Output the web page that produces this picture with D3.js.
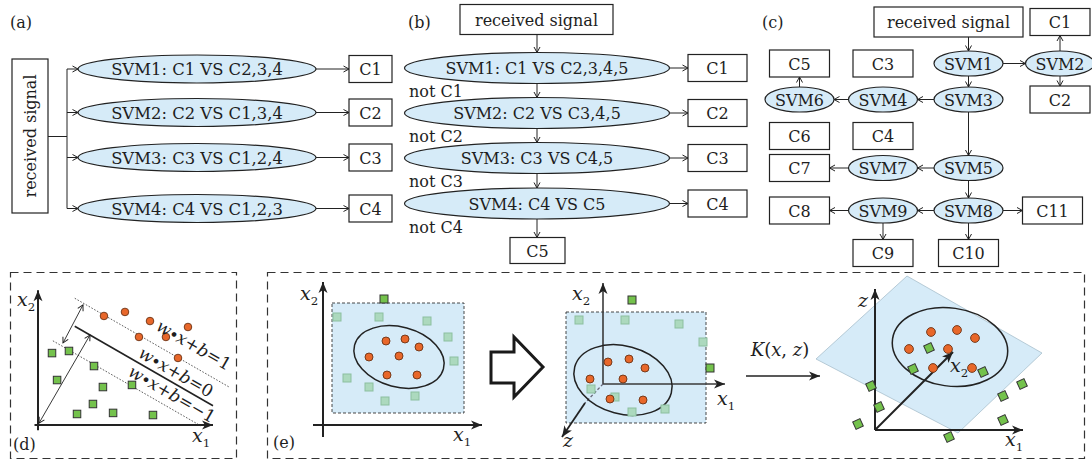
<!DOCTYPE html>
<html><head><meta charset="utf-8">
<script src="https://cdn.jsdelivr.net/npm/d3@7"></script>
<style>
body{margin:0;background:#fff}
svg{display:block}
text{font-family:"DejaVu Serif",serif;fill:#1e1e1e}
</style>
</head><body>
<svg id="fig" width="1092" height="460"></svg>
<script>
// ---------------- DATA ----------------
const inputLabel = "received signal";
const aClassifiers = ["SVM1: C1 VS C2,3,4","SVM2: C2 VS C1,3,4","SVM3: C3 VS C1,2,4","SVM4: C4 VS C1,2,3"];
const aOutputs = ["C1","C2","C3","C4"];
const bClassifiers = ["SVM1: C1 VS C2,3,4,5","SVM2: C2 VS C3,4,5","SVM3: C3 VS C4,5","SVM4: C4 VS C5"];
const bOutputs = ["C1","C2","C3","C4"];
const bRejects = ["not C1","not C2","not C3","not C4"];
const bFinal = "C5";
// panel (c): tree of binary SVMs (grid column / row)
const cNodes = [
  {id:"in",  label:"received signal", kind:"wide", col:"in", row:0},
  {id:"C1",  label:"C1",  kind:"box", col:"c3", row:0},
  {id:"SVM1",label:"SVM1",kind:"ell", col:"c2", row:1},
  {id:"SVM2",label:"SVM2",kind:"ell", col:"c3", row:1},
  {id:"C5",  label:"C5",  kind:"box", col:"c0", row:1},
  {id:"C3",  label:"C3",  kind:"box", col:"c1", row:1},
  {id:"SVM6",label:"SVM6",kind:"ell", col:"c0", row:2},
  {id:"SVM4",label:"SVM4",kind:"ell", col:"c1", row:2},
  {id:"SVM3",label:"SVM3",kind:"ell", col:"c2", row:2},
  {id:"C2",  label:"C2",  kind:"box", col:"c3", row:2},
  {id:"C6",  label:"C6",  kind:"box", col:"c0", row:3},
  {id:"C4",  label:"C4",  kind:"box", col:"c1", row:3},
  {id:"C7",  label:"C7",  kind:"box", col:"c0", row:4},
  {id:"SVM7",label:"SVM7",kind:"ell", col:"c1", row:4},
  {id:"SVM5",label:"SVM5",kind:"ell", col:"c2", row:4},
  {id:"C8",  label:"C8",  kind:"box", col:"c0", row:5},
  {id:"SVM9",label:"SVM9",kind:"ell", col:"c1", row:5},
  {id:"SVM8",label:"SVM8",kind:"ell", col:"c2", row:5},
  {id:"C11", label:"C11", kind:"box", col:"c11", row:5},
  {id:"C9",  label:"C9",  kind:"box", col:"c1", row:6},
  {id:"C10", label:"C10", kind:"box", col:"c2", row:6}
];
const cEdges = [["in","SVM1"],["SVM1","SVM2"],["SVM2","C1"],["SVM2","C2"],["SVM1","SVM3"],
  ["SVM3","SVM4"],["SVM4","SVM6"],["SVM6","C5"],["SVM3","SVM5"],["SVM5","SVM7"],["SVM7","C7"],
  ["SVM5","SVM8"],["SVM8","SVM9"],["SVM9","C8"],["SVM9","C9"],["SVM8","C10"],["SVM8","C11"]];

// panel (d): linear SVM in (x1, x2)
const dClassA = [[3.77,6.23],[4.97,6.46],[6.4,5.94],[8.57,5.6],[5.77,5.03],[7.31,5.03],[8.0,3.83]];
const dClassB = [[0.8,4.11],[1.77,4.23],[3.2,3.37],[1.09,2.57],[3.71,2.17],[5.37,2.29],[3.14,1.2],[2.23,0.63],[4.29,0.69],[6.57,0.57]];
const dSlope = -0.575;
const dLines = [{c:"1", b:8.45, x0:2.1, x1:10.9},{c:"0", b:6.85, x0:2.1, x1:10.0},{c:"−1", b:5.3, x0:0.85, x1:9.3}];
const dLabelAt = [[8.91,4.57],[7.89,3.03],[7.66,1.77]];
const dMarginArrow = [[2.57,6.86],[1.43,4.69]];
const dNormalArrow = [[0.06,0.11],[2.97,5.14]];

// panel (e): kernel mapping
const eL_in  = [[6.3,8.4],[8.2,8.6],[9.6,7.8],[4.6,6.8],[7.6,6.9],[6.4,5.0],[9.4,5.0]];
const eL_out = [[1.4,10.8],[5.6,10.8],[10.4,10.4],[12.5,8.8],[13.1,6.4],[2.4,4.7],[4.6,3.8],[6.2,2.4],[9.2,2.9]];
const eL_outlier = [[6.1,12.6]];
const eL_rect = [0.9,1.2,14.1,12.2];
const eL_ell = {cx:7.6, cy:6.8, rx:4.6, ry:3.0, rot:15};

const eM_in  = [[0.5,2.2],[2.6,2.5],[4.2,1.6],[-1.3,0.5],[2.0,0.5],[0.7,-1.5],[4.0,-1.6]];
const eM_out = [[-2.4,6.4],[2.2,6.4],[7.6,6.0],[10.0,4.2],[-1.2,-0.5],[1.2,-1.3],[2.9,-2.8],[6.2,-2.5]];
const eM_outlier = [[2.9,8.4],[10.7,1.6]];
const eM_rect = [-3.7,-3.9,10.3,7.2];
const eM_ell = {cx:2.0, cy:0.4, rx:5.0, ry:3.4, rot:15};

const eR_in  = [[5.6,9.8],[8.2,10.0],[10.0,9.2],[3.4,8.1],[7.3,8.1],[5.8,6.2],[9.7,6.2]];
const eR_out = [[5.4,8.2],[3.8,6.1],[10.8,5.8],[-0.4,4.4],[0.4,2.3],[-1.7,0.6],[7.4,-0.7],[12.8,3.4],[14.7,4.6],[12.8,1.0]];
const eR_plane = [[3.2,15.4],[16.7,7.7],[8.3,-0.3],[-5.9,7.1]];
const eR_ell = {cx:7.5, cy:8.3, rx:5.8, ry:3.9, rot:8};

// ---------------- DRAW ----------------
const svg = d3.select("#fig");
const INK = "#222", BLUE = "#d6ebf8", ORANGE = "#e8672a", GREEN = "#74c24c", PALE = "#acd9be";

const defs = svg.append("defs");
defs.append("marker").attr("id","tip").attr("viewBox","-7 -4 8 8").attr("refX",0).attr("refY",0)
  .attr("markerWidth",8).attr("markerHeight",8).attr("markerUnits","userSpaceOnUse").attr("orient","auto-start-reverse")
  .append("path").attr("d","M-5.5,-3 L0,0 L-5.5,3").attr("fill","none").attr("stroke",INK).attr("stroke-width",1);
defs.append("marker").attr("id","axis").attr("viewBox","-12 -6 13 12").attr("refX",0).attr("refY",0)
  .attr("markerWidth",13).attr("markerHeight",12).attr("markerUnits","userSpaceOnUse").attr("orient","auto")
  .append("path").attr("d","M-11,-4.5 L0,0 L-11,4.5 L-8,0Z").attr("fill",INK);

function line(g, x1,y1,x2,y2, opt={}) {
  const l = g.append("line").attr("x1",x1).attr("y1",y1).attr("x2",x2).attr("y2",y2)
    .attr("stroke",opt.stroke||INK).attr("stroke-width",opt.w||1);
  if (opt.end) l.attr("marker-end","url(#"+opt.end+")");
  if (opt.start) l.attr("marker-start","url(#"+opt.start+")");
  if (opt.dash) l.attr("stroke-dasharray",opt.dash);
  return l;
}
function label(g, x, y, t, size=16, anchor="middle") {
  return g.append("text").attr("x",x).attr("y",y).attr("text-anchor",anchor)
    .attr("dominant-baseline","central").attr("font-size",size).text(t);
}
function box(g, cx, cy, w, h, t, size=16) {
  g.append("rect").attr("x",cx-w/2).attr("y",cy-h/2).attr("width",w).attr("height",h)
    .attr("fill","#fff").attr("stroke",INK).attr("stroke-width",1.2);
  label(g, cx, cy+0.5, t, size);
}
function ell(g, cx, cy, rx, ry, t, size=16) {
  g.append("ellipse").attr("cx",cx).attr("cy",cy).attr("rx",rx).attr("ry",ry)
    .attr("fill",BLUE).attr("stroke",INK).attr("stroke-width",1.2);
  label(g, cx, cy+0.5, t, size);
}
function mathText(g, x, y, parts, size=17, anchor="start") {
  const t = g.append("text").attr("x",x).attr("y",y).attr("font-size",size).attr("text-anchor",anchor);
  parts.forEach(p => {
    const s = t.append("tspan").text(p.t);
    if (p.it) s.attr("font-style","italic");
    if (p.sub) s.attr("font-size",size*0.62).attr("dy",size*0.28);
  });
  return t;
}
const sub = (v, n) => [{t:v, it:true},{t:n, sub:true}];

// ===== (a) one-vs-rest parallel =====
{
  const g = svg.append("g");
  label(g, 10, 22, "(a)", 16, "start");
  const y = d3.scaleOrdinal().domain(aClassifiers).range([69, 112.5, 157.5, 208.5]);
  const cx = 197, rx = 119, ry = 14, busX = 67, boxX = 370.5, boxW = 43;
  g.append("rect").attr("x",12).attr("y",59).attr("width",36).attr("height",154)
    .attr("fill","#fff").attr("stroke",INK).attr("stroke-width",1.2);
  g.append("text").attr("transform","translate(30,136) rotate(-90)").attr("text-anchor","middle")
    .attr("dominant-baseline","central").attr("font-size",16).text(inputLabel);
  line(g, 48, 136.5, busX, 136.5);
  line(g, busX, y(aClassifiers[0]), busX, y(aClassifiers[3]));
  aClassifiers.forEach((c,i) => {
    const yy = y(c);
    line(g, busX, yy, cx-rx, yy, {end:"tip"});
    ell(g, cx, yy, rx, ry, c, 16.4);
    line(g, cx+rx, yy, boxX-boxW/2, yy, {end:"tip"});
    box(g, boxX, yy, boxW, 27, aOutputs[i]);
  });
}

// ===== (b) decision list =====
{
  const g = svg.append("g");
  label(g, 408, 22, "(b)", 16, "start");
  const y = d3.scaleOrdinal().domain(bClassifiers).range([68, 113, 158, 203.5]);
  const cx = 537, rx = 132.5, ry = 15.5, boxX = 717.5, boxW = 59;
  box(g, cx-0.5, 19.5, 153, 30, inputLabel);
  line(g, cx, 34.5, cx, y(bClassifiers[0])-ry, {end:"tip"});
  bClassifiers.forEach((c,i) => {
    const yy = y(c);
    if (i>0) line(g, cx, y(bClassifiers[i-1])+ry, cx, yy-ry, {end:"tip"});
    ell(g, cx, yy, rx, ry, c);
    line(g, cx+rx, yy, boxX-boxW/2, yy, {end:"tip"});
    box(g, boxX, yy, boxW, 27, bOutputs[i]);
    label(g, 409, yy+23.5, bRejects[i], 16, "start");
  });
  line(g, cx, y(bClassifiers[3])+ry, cx, 237.5, {end:"tip"});
  box(g, cx+0.5, 250.5, 55, 26, bFinal);
}

// ===== (c) binary tree =====
{
  const g = svg.append("g");
  label(g, 762, 22, "(c)", 16, "start");
  const X = d3.scaleOrdinal().domain(["c0","c1","in","c2","c3","c11"]).range([799.5, 883, 948.5, 968.5, 1060, 1052.5]);
  const Y = d3.scaleOrdinal().domain([0,1,2,3,4,5,6]).range([22, 63.5, 99.5, 136, 168, 210.5, 253]);
  const size = {wide:[149,30], box:[60,27], ell:[34.5,12.5]};
  const byId = {};
  cNodes.forEach(n => { n.x = X(n.col); n.y = Y(n.row); byId[n.id] = n; });
  const hw = n => n.kind==="ell" ? size.ell[0] : size[n.kind][0]/2;
  const hh = n => n.kind==="ell" ? size.ell[1] : size[n.kind][1]/2;
  cEdges.forEach(([a,b]) => {
    const s = byId[a], t = byId[b];
    if (s.row === t.row) {
      const dir = Math.sign(t.x - s.x);
      line(g, s.x + dir*hw(s), s.y, t.x - dir*hw(t), s.y, {end:"tip"});
    } else {
      const dir = Math.sign(t.y - s.y);
      const xx = s.kind==="ell" ? s.x : t.x;
      line(g, xx, s.y + dir*hh(s), xx, t.y - dir*hh(t), {end:"tip"});
    }
  });
  cNodes.forEach(n => {
    if (n.kind==="ell") ell(g, n.x, n.y, size.ell[0], size.ell[1], n.label);
    else box(g, n.x, n.y, size[n.kind][0], size[n.kind][1], n.label);
  });
}

// helper scales for the scatter panels
function frame(ox, oy, unit) {
  return {x: d3.scaleLinear().domain([0,1]).range([ox, ox+unit]),
          y: d3.scaleLinear().domain([0,1]).range([oy, oy-unit]), unit};
}
function dots(g, S, pts, r) {
  g.selectAll(null).data(pts).join("circle").attr("cx",d=>S.x(d[0])).attr("cy",d=>S.y(d[1])).attr("r",r)
    .attr("fill",ORANGE).attr("stroke","#6b3214").attr("stroke-width",0.9);
}
function squares(g, S, pts, s, fill, stroke, rot=0) {
  g.selectAll(null).data(pts).join("rect").attr("x",-s/2).attr("y",-s/2).attr("width",s).attr("height",s)
    .attr("transform",d=>`translate(${S.x(d[0])},${S.y(d[1])}) rotate(${rot})`)
    .attr("fill",fill).attr("stroke",stroke).attr("stroke-width",1);
}
function ellipseShape(g, S, e, fill="none") {
  g.append("ellipse").attr("cx",0).attr("cy",0).attr("rx",e.rx*S.unit).attr("ry",e.ry*S.unit)
    .attr("transform",`translate(${S.x(e.cx)},${S.y(e.cy)}) rotate(${e.rot})`)
    .attr("fill",fill).attr("stroke",INK).attr("stroke-width",1.5);
}

// dashed panel frames
svg.append("rect").attr("x",10.5).attr("y",272.5).attr("width",226).attr("height",186)
  .attr("fill","none").attr("stroke","#333").attr("stroke-width",1.2).attr("stroke-dasharray","8,5");
svg.append("rect").attr("x",267.5).attr("y",272.5).attr("width",817).attr("height",186)
  .attr("fill","none").attr("stroke","#333").attr("stroke-width",1.2).attr("stroke-dasharray","8,5");

// ===== (d) =====
{
  const g = svg.append("g");
  const S = frame(38, 425, 17.5);
  line(g, S.x(-0.2), S.y(0), S.x(10.0), S.y(0), {w:2, end:"axis"});
  line(g, S.x(0), S.y(-0.3), S.x(0), S.y(7.7), {w:2, end:"axis"});
  dLines.forEach(l => {
    line(g, S.x(l.x0), S.y(l.b + dSlope*l.x0), S.x(l.x1), S.y(l.b + dSlope*l.x1),
      l.c==="0" ? {w:1.6} : {w:0.8, dash:"1.6,1.6", stroke:"#333"});
  });
  line(g, S.x(dMarginArrow[0][0]), S.y(dMarginArrow[0][1]), S.x(dMarginArrow[1][0]), S.y(dMarginArrow[1][1]), {w:0.9, start:"tip", end:"tip"});
  line(g, S.x(dNormalArrow[0][0]), S.y(dNormalArrow[0][1]), S.x(dNormalArrow[1][0]), S.y(dNormalArrow[1][1]), {w:0.9, start:"tip", end:"tip"});
  squares(g, S, dClassB, 7.5, GREEN, "#333");
  dots(g, S, dClassA, 3.8);
  const ang = Math.atan(-dSlope) * 180/Math.PI;
  dLines.forEach((l,i) => {
    const p = dLabelAt[i];
    const t = mathText(g, 0, 0, [{t:"w",it:true},{t:"∙"},{t:"x",it:true},{t:"+"},{t:"b",it:true},{t:"="+l.c}], 17, "middle");
    t.attr("transform",`translate(${S.x(p[0])},${S.y(p[1])}) rotate(${ang})`).attr("dominant-baseline","central");
  });
  mathText(g, S.x(0)-21, S.y(0)-119, sub("x","2"), 19);
  mathText(g, S.x(10)-21, S.y(0)+17, sub("x","1"), 19);
  label(g, 13, 444, "(d)", 16, "start");
}

// ===== (e) left =====
{
  const g = svg.append("g");
  const S = frame(323, 425, 10);
  g.append("rect").attr("x",S.x(eL_rect[0])).attr("y",S.y(eL_rect[3])).attr("width",S.x(eL_rect[2])-S.x(eL_rect[0]))
    .attr("height",S.y(eL_rect[1])-S.y(eL_rect[3])).attr("fill",BLUE).attr("stroke","#333").attr("stroke-width",0.9).attr("stroke-dasharray","3,2");
  line(g, S.x(-1), S.y(0), S.x(15.9), S.y(0), {w:2, end:"axis"});
  line(g, S.x(0), S.y(-1.2), S.x(0), S.y(14.3), {w:2, end:"axis"});
  ellipseShape(g, S, eL_ell);
  squares(g, S, eL_out, 8, PALE, "#8cbf9f");
  squares(g, S, eL_outlier, 8, GREEN, "#333");
  dots(g, S, eL_in, 4);
  mathText(g, S.x(0)-23, S.y(12.5), sub("x","2"), 19);
  mathText(g, S.x(13.0), S.y(-1.6), sub("x","1"), 19);
  label(g, 273, 442, "(e)", 16, "start");
  // transition arrow
  const arrowPts = [[16.8,7.3],[19.1,7.3],[19.1,8.8],[22.0,5.8],[19.1,2.8],[19.1,4.2],[16.8,4.2]];
  g.append("polygon").attr("points", arrowPts.map(p=>[S.x(p[0]),S.y(p[1])].join(",")).join(" "))
    .attr("fill","#fff").attr("stroke","#1a1a1a").attr("stroke-width",3).attr("stroke-linejoin","miter");
}

// ===== (e) middle =====
{
  const g = svg.append("g");
  const S = frame(603, 384, 10);
  g.append("rect").attr("x",S.x(eM_rect[0])).attr("y",S.y(eM_rect[3])).attr("width",S.x(eM_rect[2])-S.x(eM_rect[0]))
    .attr("height",S.y(eM_rect[1])-S.y(eM_rect[3])).attr("fill",BLUE).attr("stroke","#333").attr("stroke-width",0.9).attr("stroke-dasharray","3,2");
  line(g, S.x(0), S.y(0), S.x(12.2), S.y(0), {w:1.6, stroke:"#3a3a3a", end:"axis"});
  line(g, S.x(0), S.y(0), S.x(0), S.y(10.1), {w:1.6, stroke:"#3a3a3a", end:"axis"});
  line(g, S.x(0), S.y(0), S.x(-1.8), S.y(-1.9), {w:1.3, stroke:"#667", dash:"3,2"});
  line(g, S.x(-1.8), S.y(-1.9), S.x(-4.1), S.y(-5.3), {w:1.8, end:"axis"});
  ellipseShape(g, S, eM_ell);
  squares(g, S, eM_out, 8, PALE, "#8cbf9f");
  squares(g, S, eM_outlier, 8, GREEN, "#333");
  dots(g, S, eM_in, 4);
  mathText(g, S.x(-3.1), S.y(8.4), sub("x","2"), 19);
  mathText(g, S.x(11.4), S.y(-2.1), sub("x","1"), 19);
  mathText(g, S.x(-4.0), S.y(-6.3), [{t:"z",it:true}], 19);
}

// ===== (e) right =====
{
  const g = svg.append("g");
  const S = frame(875, 430, 10);
  mathText(g, S.x(-9.5), S.y(7.4), [{t:"K",it:true},{t:"("},{t:"x",it:true},{t:", "},{t:"z",it:true},{t:")"}], 18, "middle");
  line(g, S.x(-12.9), S.y(5.4), S.x(-5.5), S.y(5.4), {w:1.6, end:"axis"});
  g.append("polygon").attr("points", eR_plane.map(p=>[S.x(p[0]),S.y(p[1])].join(",")).join(" "))
    .attr("fill",BLUE).attr("stroke","#9fb7c6").attr("stroke-width",0.7);
  line(g, S.x(0), S.y(0), S.x(14.8), S.y(0), {w:2, end:"axis"});
  line(g, S.x(0), S.y(0), S.x(0), S.y(14.1), {w:2, end:"axis"});
  ellipseShape(g, S, eR_ell);
  line(g, S.x(0), S.y(0), S.x(7.8), S.y(7.8), {w:2, end:"axis"});
  squares(g, S, eR_out, 8, GREEN, "#333", -25);
  dots(g, S, eR_in, 4.4);
  mathText(g, S.x(-1.7), S.y(12.3), [{t:"z",it:true}], 19);
  mathText(g, S.x(13.0), S.y(-1.6), sub("x","1"), 19);
  mathText(g, S.x(7.5), S.y(5.8), sub("x","2"), 19);
}
</script>
</body></html>
